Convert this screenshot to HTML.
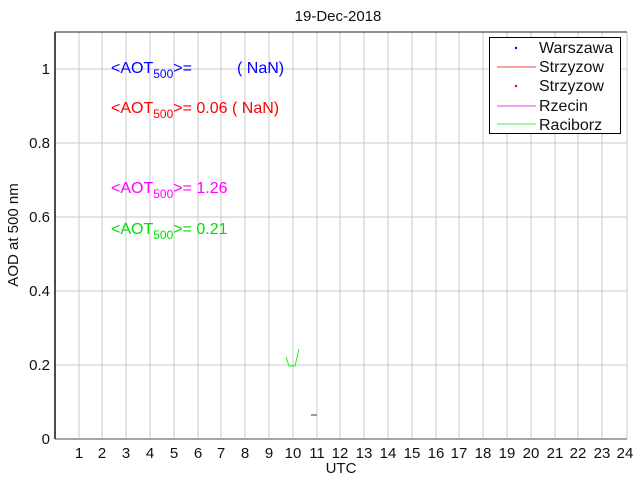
<!DOCTYPE html>
<html><head><meta charset="utf-8"><style>body{margin:0;background:#fff}svg{display:block}text{font-family:"Liberation Sans",sans-serif}</style></head><body>
<svg width="640" height="480" xmlns="http://www.w3.org/2000/svg">
<rect width="640" height="480" fill="#fff"/>
<g stroke="#c8c8c8" stroke-width="1">
<line x1="79" y1="32" x2="79" y2="438"/><line x1="102" y1="32" x2="102" y2="438"/><line x1="126" y1="32" x2="126" y2="438"/><line x1="150" y1="32" x2="150" y2="438"/><line x1="174" y1="32" x2="174" y2="438"/><line x1="198" y1="32" x2="198" y2="438"/><line x1="221" y1="32" x2="221" y2="438"/><line x1="245" y1="32" x2="245" y2="438"/><line x1="269" y1="32" x2="269" y2="438"/><line x1="293" y1="32" x2="293" y2="438"/><line x1="317" y1="32" x2="317" y2="438"/><line x1="340" y1="32" x2="340" y2="438"/><line x1="364" y1="32" x2="364" y2="438"/><line x1="388" y1="32" x2="388" y2="438"/><line x1="412" y1="32" x2="412" y2="438"/><line x1="436" y1="32" x2="436" y2="438"/><line x1="459" y1="32" x2="459" y2="438"/><line x1="483" y1="32" x2="483" y2="438"/><line x1="507" y1="32" x2="507" y2="438"/><line x1="531" y1="32" x2="531" y2="438"/><line x1="555" y1="32" x2="555" y2="438"/><line x1="578" y1="32" x2="578" y2="438"/><line x1="602" y1="32" x2="602" y2="438"/>
<line x1="55" y1="365" x2="627" y2="365"/><line x1="55" y1="291" x2="627" y2="291"/><line x1="55" y1="217" x2="627" y2="217"/><line x1="55" y1="143" x2="627" y2="143"/><line x1="55" y1="69" x2="627" y2="69"/>
<line x1="627" y1="32" x2="627" y2="439"/>
</g>
<line x1="55" y1="439" x2="627" y2="439" stroke="#888" stroke-width="1.5"/>
<line x1="55" y1="32" x2="627" y2="32" stroke="#222" stroke-width="1"/>
<line x1="55" y1="32" x2="55" y2="439" stroke="#111" stroke-width="1.5"/>
<g font-size="15" text-anchor="end" fill="#111">
<text x="50" y="444">0</text><text x="50" y="370">0.2</text><text x="50" y="296">0.4</text><text x="50" y="222">0.6</text><text x="50" y="148">0.8</text><text x="50" y="74">1</text>
</g>
<g font-size="15" text-anchor="middle" fill="#111">
<text x="79" y="458">1</text><text x="102" y="458">2</text><text x="126" y="458">3</text><text x="150" y="458">4</text><text x="174" y="458">5</text><text x="198" y="458">6</text><text x="221" y="458">7</text><text x="245" y="458">8</text><text x="269" y="458">9</text><text x="293" y="458">10</text><text x="317" y="458">11</text><text x="340" y="458">12</text><text x="364" y="458">13</text><text x="388" y="458">14</text><text x="412" y="458">15</text><text x="436" y="458">16</text><text x="459" y="458">17</text><text x="483" y="458">18</text><text x="507" y="458">19</text><text x="531" y="458">20</text><text x="555" y="458">21</text><text x="578" y="458">22</text><text x="602" y="458">23</text><text x="625" y="458">24</text>
<text x="341" y="473">UTC</text>
<text x="338" y="21">19-Dec-2018</text>
</g>
<text transform="translate(18,235) rotate(-90)" font-size="15" text-anchor="middle" fill="#111">AOD at 500 nm</text>
<g font-size="16">
<text x="111" y="73" fill="#0000ff">&lt;AOT<tspan font-size="12" dy="5">500</tspan><tspan dy="-5">&gt;=</tspan><tspan x="237">( NaN)</tspan></text>
<text x="111" y="113" fill="#ff0000">&lt;AOT<tspan font-size="12" dy="5">500</tspan><tspan dy="-5">&gt;= 0.06 ( NaN)</tspan></text>
<text x="111" y="193" fill="#ff00ff">&lt;AOT<tspan font-size="12" dy="5">500</tspan><tspan dy="-5">&gt;= 1.26</tspan></text>
<text x="111" y="234" fill="#00dd00">&lt;AOT<tspan font-size="12" dy="5">500</tspan><tspan dy="-5">&gt;= 0.21</tspan></text>
</g>
<polyline points="286,357 289,366 295,366 299,349" fill="none" stroke="#22ee22" stroke-width="1"/>
<line x1="311" y1="415" x2="317" y2="415" stroke="#333" stroke-width="1"/>
<rect x="489.5" y="37.5" width="131" height="96" fill="#fff" stroke="#000" stroke-width="1"/>
<circle cx="516" cy="48" r="1.2" fill="#0000ff"/>
<line x1="497" y1="67" x2="536" y2="67" stroke="#ff4444"/>
<circle cx="516" cy="86" r="1.2" fill="#ff0000"/>
<line x1="497" y1="106" x2="536" y2="106" stroke="#dd44dd"/>
<line x1="497" y1="124" x2="536" y2="124" stroke="#44ee44"/>
<g font-size="16" fill="#111">
<text x="539" y="53">Warszawa</text><text x="539" y="72">Strzyzow</text><text x="539" y="91">Strzyzow</text><text x="539" y="111">Rzecin</text><text x="539" y="130">Raciborz</text>
</g>
</svg>
</body></html>
